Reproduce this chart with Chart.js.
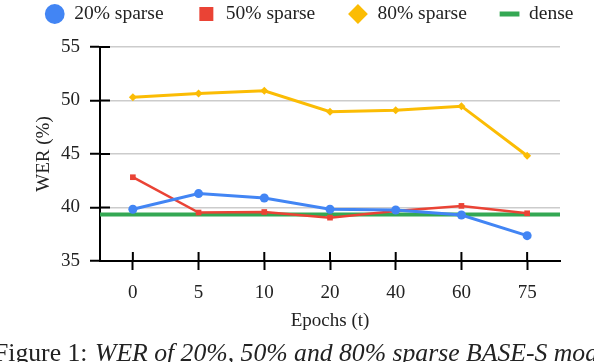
<!DOCTYPE html>
<html>
<head>
<meta charset="utf-8">
<script src="https://cdn.jsdelivr.net/npm/chart.js@4"></script>
<style>
  html, body { margin: 0; padding: 0; background: #fff; }
  #wrap { width: 594px; height: 362px; position: relative; }
</style>
</head>
<body>
<div id="wrap"><canvas id="chart1"></canvas></div>
<script>
// -- THE DATA --

const epochs = ["0", "5", "10", "20", "40", "60", "75"];

const sparse20 = [39.84, 41.30, 40.89, 39.84, 39.77, 39.30, 37.37];
const sparse50 = [42.83, 39.53, 39.58, 39.05, 39.68, 40.15, 39.46];
const sparse80 = [50.31, 50.65, 50.90, 48.95, 49.09, 49.47, 44.84];
const denseWER = 39.34;

const caption = ["Figure 1:", "WER of 20%, 50% and 80% sparse BASE-S models"];

// -- FONTS / HELPERS --

const serif = "'Liberation Serif', 'Times New Roman', serif";
Chart.defaults.font.family = serif;
Chart.defaults.color = '#222';

// ticks in the original cross the axis lines, chart.js only draws the outer half
const innerTicks = {
  id: 'innerTicks',
  afterDraw(chart) {
    const {ctx, chartArea, scales} = chart;
    ctx.save();
    ctx.strokeStyle = '#000';
    ctx.lineWidth = 2;
    ctx.beginPath();
    scales.y.ticks.forEach((t, i) => {
      const py = scales.y.getPixelForTick(i);
      ctx.moveTo(chartArea.left, py);
      ctx.lineTo(chartArea.left + 10, py);
    });
    scales.x.ticks.forEach((t, i) => {
      const px = scales.x.getPixelForTick(i);
      ctx.moveTo(px, chartArea.bottom);
      ctx.lineTo(px, chartArea.bottom - 9);
    });
    ctx.stroke();
    ctx.restore();
  }
};

// cut-off figure caption under the plot
const captionPlugin = {
  id: 'caption',
  afterDraw(chart) {
    const ctx = chart.ctx;
    ctx.save();
    ctx.fillStyle = '#222';
    ctx.textBaseline = 'alphabetic';
    ctx.textAlign = 'left';
    ctx.font = "25.7px " + serif;
    ctx.fillText(caption[0], -6, 361);
    ctx.font = "italic 25.7px " + serif;
    ctx.fillText(caption[1], 95, 361);
    ctx.restore();
  }
};

// -- THE DATA OBJ --

const chart1_data_obj = {
  labels: epochs,
  datasets: [{
    label: '20% sparse',
    data: sparse20,
    borderColor: '#4285F4',
    backgroundColor: '#4285F4',
    borderWidth: 3,
    pointStyle: 'circle',
    pointRadius: 4.5,
    pointBorderWidth: 0
  }, {
    label: '50% sparse',
    data: sparse50,
    borderColor: '#EA4335',
    backgroundColor: '#EA4335',
    borderWidth: 2.5,
    pointStyle: 'rect',
    pointRadius: 4,
    pointBorderWidth: 0
  }, {
    label: '80% sparse',
    data: sparse80,
    borderColor: '#FBBC04',
    backgroundColor: '#FBBC04',
    borderWidth: 3,
    pointStyle: 'rectRot',
    pointRadius: 4,
    pointBorderWidth: 0
  }, {
    label: 'dense',
    // spans the whole plot width, so it sits on its own hidden linear axis
    data: [{x: -0.5, y: denseWER}, {x: epochs.length - 0.5, y: denseWER}],
    xAxisID: 'xd',
    borderColor: '#34A853',
    backgroundColor: '#34A853',
    borderWidth: 4,
    pointStyle: 'line',
    pointRadius: 0,
    pointHoverRadius: 0,
    pointBorderWidth: 5
  }]
};

// -- THE CHART --

const chart1_chart_obj = {
  type: 'line',
  data: chart1_data_obj,
  plugins: [innerTicks, captionPlugin],
  options: {
    responsive: true,
    maintainAspectRatio: false,
    animation: false,
    layout: { padding: { left: 12, top: -28.75, right: -24, bottom: 0 } },
    plugins: {
      tooltip: { enabled: false },
      legend: {
        position: 'top',
        align: 'start',
        labels: {
          usePointStyle: true,
          boxWidth: 19.5,
          boxHeight: 14,
          padding: 33,
          color: '#222',
          font: { size: 19.5 }
        }
      },
      // empty title used as a spacer between legend and plot
      title: {
        display: true,
        text: '',
        weight: 500,
        padding: 0,
        font: { size: 10, lineHeight: '13.25px' }
      }
    },
    scales: {
      x: {
        offset: true,
        grid: { display: true, drawOnChartArea: false, offset: false, tickLength: 9, tickColor: '#000', tickWidth: 2 },
        border: { color: '#000', width: 2 },
        ticks: { padding: 12, color: '#222', font: { size: 19 } },
        title: { display: true, text: 'Epochs (t)', color: '#222', font: { size: 19 }, padding: { top: 0, bottom: 30 } },
        afterFit(s) { s.height = 101; s.paddingRight = 34; }
      },
      xd: {
        type: 'linear',
        display: false,
        min: -0.5,
        max: epochs.length - 0.5
      },
      y: {
        min: 35,
        max: 55,
        ticks: { stepSize: 5, padding: 10, color: '#222', font: { size: 19 } },
        grid: { color: '#cccccc', lineWidth: 1.5, tickLength: 10, tickColor: '#000', tickWidth: 2 },
        border: { color: '#000', width: 2 },
        title: { display: true, text: 'WER (%)', color: '#222', font: { size: 19 }, padding: { top: 20.6, bottom: 0 } },
        afterFit(s) { s.width = 88; }
      }
    }
  }
};

new Chart("chart1", chart1_chart_obj);
</script>
</body>
</html>
